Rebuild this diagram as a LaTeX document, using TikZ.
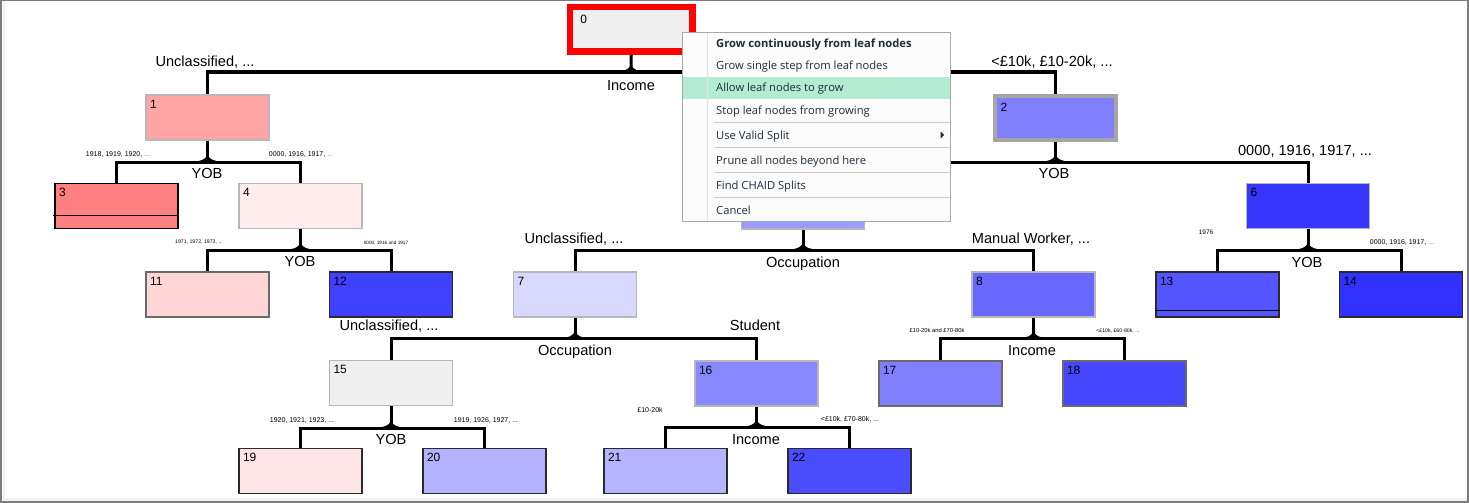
\documentclass[tikz,border=0pt]{standalone}
\usepackage{fontspec}
\setmainfont{Liberation Sans}
\newfontfamily\menufont{Open Sans}
\definecolor{framegray}{HTML}{7D7D7D}
\definecolor{stripc}{HTML}{ECF2F8}
\definecolor{nodegray}{HTML}{EFEFEF}
\definecolor{c1}{HTML}{FFA5A5}
\definecolor{c3}{HTML}{FF8080}
\definecolor{c4}{HTML}{FFEDED}
\definecolor{c11}{HTML}{FFD5D5}
\definecolor{c12}{HTML}{4040FF}
\definecolor{c2}{HTML}{8080FF}
\definecolor{c5}{HTML}{9B9BFF}
\definecolor{c6}{HTML}{3636FF}
\definecolor{c13}{HTML}{5555FF}
\definecolor{c14}{HTML}{3030FF}
\definecolor{c7}{HTML}{D8D8FF}
\definecolor{c8}{HTML}{6868FF}
\definecolor{c16}{HTML}{8888FF}
\definecolor{c17}{HTML}{8080FF}
\definecolor{c18}{HTML}{4646FF}
\definecolor{c19}{HTML}{FFE5E5}
\definecolor{c20}{HTML}{B3B3FF}
\definecolor{c21}{HTML}{B5B5FF}
\definecolor{c22}{HTML}{4C4CFF}
\definecolor{lightborder}{HTML}{B8B8B8}
\definecolor{midborder}{HTML}{6A6A6A}
\definecolor{darkborder}{HTML}{2A2A2A}
\definecolor{thickgray}{HTML}{A6A6A6}
\definecolor{menubg}{HTML}{FBFBFB}
\definecolor{menuborder}{HTML}{A8A8A8}
\definecolor{menusep}{HTML}{CDCDCD}
\definecolor{menuvsep}{HTML}{E2E3E3}
\definecolor{menuhl}{HTML}{B2ECD2}
\definecolor{menutext}{HTML}{1E2D3C}
\definecolor{dotblue}{HTML}{3A78D0}
\definecolor{dotorange}{HTML}{C88A20}
\pgfdeclarelayer{back}
\pgfdeclarelayer{bg}
\pgfsetlayers{back,bg,main}
\begin{document}
\begin{tikzpicture}[x=1pt,y=-1pt,
  conn/.style={line width=3pt},
  tbox/.style={rectangle, minimum width=123pt, minimum height=45pt, inner sep=0pt, line width=1.3pt},
  numlab/.style={anchor=north west, inner sep=0pt, font=\fontsize{12}{14}\selectfont, xshift=4.5pt, yshift=-5.5pt},
  big/.style={anchor=base, yshift=-5.2pt, inner sep=0pt, font=\fontsize{14.6}{17}\selectfont},
  sml/.style={anchor=base, yshift=-2.5pt, inner sep=0pt, font=\fontsize{7}{8}\selectfont},
  tny/.style={anchor=base, yshift=-1.9pt, inner sep=0pt, font=\fontsize{5.2}{6}\selectfont},
  mitem/.style={anchor=base west, yshift=-4pt, inner sep=0pt, text=menutext, font=\menufont\fontsize{11.2}{13}\selectfont},
  msep/.style={draw=menusep, line width=1pt},
  peak/.pic={\fill (-9,-1) .. controls (-3,-2) and (-1,-5) .. (0,-7.5) .. controls (1,-5) and (3,-2) .. (9,-1) -- cycle;}
]
\useasboundingbox (0,0) rectangle (1469,503);
\begin{pgfonlayer}{back}
  \fill[framegray] (0,0) rectangle (1469,503);
  \fill[white] (2,1.2) rectangle (1467.3,500.8);
  \fill[stripc] (3.3,1.2) rectangle (5,498.3);
  \fill[stripc] (3.3,498.3) rectangle (1467.3,500.8);
\end{pgfonlayer}

% ---------- tree nodes ----------
\node[rectangle, minimum width=122.5pt, minimum height=44.5pt, inner sep=0pt, line width=6.5pt, draw=red, fill=nodegray,
      label={[numlab, xshift=9pt, yshift=-5.5pt]north west:0}] (n0) at (631.25,29.25) {};
\node[tbox, fill=c1, draw=lightborder, label={[numlab]north west:1}] (n1) at (207.5,117.5) {};
\node[rectangle, minimum width=121pt, minimum height=44pt, inner sep=0pt, line width=4pt, draw=thickgray, fill=c2,
      label={[numlab, xshift=3pt, yshift=-3pt]north west:2}] (n2) at (1055.5,118) {};
\node[tbox, fill=c3, draw=black, label={[numlab]north west:3}] (n3) at (116.5,206) {};
\node[tbox, fill=c4, draw=lightborder, label={[numlab]north west:4}] (n4) at (300.5,206) {};
\node[tbox, fill=c5, draw=lightborder] (n5) at (803,206.5) {};
\node[tbox, fill=c6, draw=lightborder, label={[numlab]north west:6}] (n6) at (1308,206) {};
\node[tbox, fill=c7, draw=lightborder, label={[numlab]north west:7}] (n7) at (575,294.5) {};
\node[tbox, fill=c8, draw=lightborder, label={[numlab]north west:8}] (n8) at (1033.5,294.5) {};
\node[tbox, fill=c11, draw=midborder, label={[numlab]north west:11}] (n11) at (207.5,294.5) {};
\node[tbox, fill=c12, draw=darkborder, label={[numlab]north west:12}] (n12) at (391,294.5) {};
\node[tbox, fill=c13, draw=darkborder, label={[numlab]north west:13}] (n13) at (1217.5,294.5) {};
\node[tbox, fill=c14, draw=darkborder, label={[numlab]north west:14}] (n14) at (1401,294.5) {};
\node[tbox, fill=nodegray, draw=lightborder, label={[numlab]north west:15}] (n15) at (391,383) {};
\node[tbox, fill=c16, draw=lightborder, label={[numlab]north west:16}] (n16) at (756.5,383.5) {};
\node[tbox, fill=c17, draw=midborder, label={[numlab]north west:17}] (n17) at (940.5,383.5) {};
\node[tbox, fill=c18, draw=midborder, label={[numlab]north west:18}] (n18) at (1124.5,383.5) {};
\node[tbox, fill=c19, draw=darkborder, label={[numlab]north west:19}] (n19) at (300.5,471) {};
\node[tbox, fill=c20, draw=darkborder, label={[numlab]north west:20}] (n20) at (484.5,471) {};
\node[tbox, fill=c21, draw=darkborder, label={[numlab]north west:21}] (n21) at (665.5,471) {};
\node[tbox, fill=c22, draw=darkborder, label={[numlab]north west:22}] (n22) at (849.5,471) {};

% lines inside nodes 3 and 13
\draw[black, line width=1pt] ([xshift=-1.5pt, yshift=14pt]n3.south west) -- ([yshift=14pt]n3.south east);
\draw[black, line width=1pt] ([yshift=7pt]n13.south west) -- ([yshift=7pt]n13.south east);

% ---------- junctions ----------
\coordinate (j0) at (631,72);
\coordinate (j1) at (207.5,162);
\coordinate (j2) at (1055.5,162);
\coordinate (j4) at (300.5,250);
\coordinate (j5) at (803,250);
\coordinate (j6) at (1308,250);
\coordinate (j7) at (575,338.5);
\coordinate (j8) at (1033.5,338.5);
\coordinate (j15) at (391,428);
\coordinate (j16) at (756.5,427);

\begin{pgfonlayer}{bg}
  \foreach \p/\j/\l/\r in {n0/j0/n1/n2, n1/j1/n3/n4, n2/j2/n5/n6, n4/j4/n11/n12, n5/j5/n7/n8,
                           n6/j6/n13/n14, n7/j7/n15/n16, n8/j8/n17/n18, n15/j15/n19/n20, n16/j16/n21/n22}{
    \draw[conn] (\p.south) -- (\j);
    \draw[conn] (\l.north) |- (\j) -| (\r.north);
    \pic at (\j) {peak};
  }
\end{pgfonlayer}

% ---------- split variable labels ----------
\node[big] (s0) at (631,85) {Income};
\node[big] (s1) at (207,173) {YOB};
\node[big] (s2) at (1054,173) {YOB};
\node[big] (s4) at (300,261) {YOB};
\node[big] (s5) at (803,262) {Occupation};
\node[big] (s6) at (1307,262) {YOB};
\node[big] (s7) at (575,350) {Occupation};
\node[big] (s8) at (1032,350) {Income};
\node[big] (s15) at (391,439) {YOB};
\node[big] (s16) at (756,439) {Income};

% ---------- branch labels ----------
\node[big] (b1) at (205,61) {Unclassified, ...};
\node[big] (b2) at (1052,61) {<£10k, £10-20k, ...};
\node[big] (b6) at (1305,150) {0000, 1916, 1917, ...};
\node[big] (b7) at (574,238) {Unclassified, ...};
\node[big] (b8) at (1031,238) {Manual Worker, ...};
\node[big] (b15) at (389,325) {Unclassified, ...};
\node[big] (b16) at (755,325) {Student};

\node[sml] (b3) at (118,154) {1918, 1919, 1920, \textcolor{dotblue}{...}};
\node[sml] (b4) at (301,154) {0000, 1916, 1917, \textcolor{dotorange}{...}};
\node[tny] (b11) at (199,242) {1971, 1972, 1973, ...};
\node[tny, font=\fontsize{4.7}{6}\selectfont] (b12) at (386,243) {0000, 1916 and 1917};
\node[sml, font=\fontsize{6.5}{8}\selectfont] (b13) at (1206,232) {1976};
\node[sml] (b14) at (1402,242) {0000, 1916, 1917, \textcolor{dotblue}{...}};
\node[tny, font=\fontsize{5.8}{7}\selectfont] (b17) at (937,331) {£10-20k and £70-80k};
\node[tny] (b18) at (1118,331) {<£10k, £60-80k, ...};
\node[sml] (b21) at (650,410) {£10-20k};
\node[sml] (b22) at (850,419) {<£10k, £70-80k, ...};
\node[sml] (b19) at (302,420) {1920, 1921, 1923, ...};
\node[sml] (b20) at (486,420) {1919, 1926, 1927, ...};

% ---------- context menu ----------
\node[rectangle, draw=menuborder, fill=menubg, line width=1pt, minimum width=268pt, minimum height=189pt, inner sep=0pt] (menu) at (816.5,127) {};
\fill[menuhl] (683,77) rectangle (950,99);
\draw[menuvsep, line width=1pt] (707,33.5) -- (707,220.5);
\draw[msep] (714,122) -- (950,122);
\draw[msep] (714,147) -- (950,147);
\draw[msep] (714,172) -- (950,172);
\draw[msep] (714,197) -- (950,197);
\node[mitem, font=\menufont\bfseries\fontsize{11.2}{13}\selectfont] (m1) at (716,44) {Grow continuously from leaf nodes};
\node[mitem] (m2) at (716,66) {Grow single step from leaf nodes};
\node[mitem] (m3) at (716,88) {Allow leaf nodes to grow};
\node[mitem] (m4) at (716,110) {Stop leaf nodes from growing};
\node[mitem] (m5) at (716,135) {Use Valid Split};
\node[mitem] (m6) at (716,160) {Prune all nodes beyond here};
\node[mitem] (m7) at (716,185) {Find CHAID Splits};
\node[mitem] (m8) at (716,210) {Cancel};
\fill[menutext] (940.5,131.5) -- (944,135) -- (940.5,138.5) -- cycle;
\end{tikzpicture}
\end{document}
